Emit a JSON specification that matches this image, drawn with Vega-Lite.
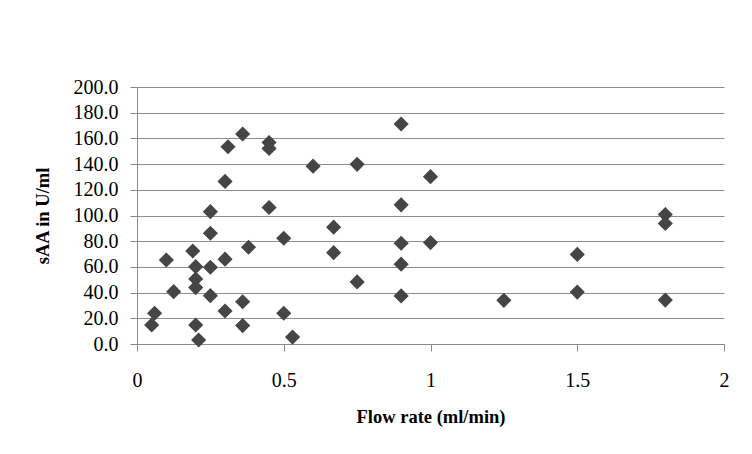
{
  "$schema": "https://vega.github.io/schema/vega-lite/v6.json",
  "autosize": {"type": "none"},
  "padding": {"left": 137, "top": 87, "right": 28, "bottom": 110},
  "width": 587,
  "height": 257,
  "background": "white",
  "config": {
    "view": {"stroke": null},
    "font": "Liberation Serif"
  },
  "data": {
    "values": [
      {"flow": 0.05, "saa": 14.8},
      {"flow": 0.06, "saa": 23.9},
      {"flow": 0.1, "saa": 65.4},
      {"flow": 0.125, "saa": 40.7},
      {"flow": 0.19, "saa": 72.4},
      {"flow": 0.2, "saa": 60.2},
      {"flow": 0.2, "saa": 50.6},
      {"flow": 0.2, "saa": 43.9},
      {"flow": 0.2, "saa": 14.8},
      {"flow": 0.21, "saa": 3.1},
      {"flow": 0.25, "saa": 103.0},
      {"flow": 0.25, "saa": 86.2},
      {"flow": 0.25, "saa": 59.7},
      {"flow": 0.25, "saa": 37.6},
      {"flow": 0.3, "saa": 126.5},
      {"flow": 0.3, "saa": 66.0},
      {"flow": 0.3, "saa": 25.7},
      {"flow": 0.31, "saa": 153.5},
      {"flow": 0.36, "saa": 163.4},
      {"flow": 0.36, "saa": 32.9},
      {"flow": 0.36, "saa": 14.3},
      {"flow": 0.38, "saa": 75.3},
      {"flow": 0.45, "saa": 156.8},
      {"flow": 0.45, "saa": 152.2},
      {"flow": 0.45, "saa": 106.2},
      {"flow": 0.5, "saa": 82.3},
      {"flow": 0.5, "saa": 23.9},
      {"flow": 0.53, "saa": 5.4},
      {"flow": 0.6, "saa": 138.4},
      {"flow": 0.67, "saa": 90.9},
      {"flow": 0.67, "saa": 71.1},
      {"flow": 0.75, "saa": 139.8},
      {"flow": 0.75, "saa": 48.3},
      {"flow": 0.9, "saa": 171.2},
      {"flow": 0.9, "saa": 108.3},
      {"flow": 0.9, "saa": 78.4},
      {"flow": 0.9, "saa": 62.1},
      {"flow": 0.9, "saa": 37.4},
      {"flow": 1.0, "saa": 130.2},
      {"flow": 1.0, "saa": 78.9},
      {"flow": 1.25, "saa": 34.0},
      {"flow": 1.5, "saa": 69.7},
      {"flow": 1.5, "saa": 40.4},
      {"flow": 1.8, "saa": 100.8},
      {"flow": 1.8, "saa": 93.8},
      {"flow": 1.8, "saa": 34.2}
    ]
  },
  "mark": {"type": "point", "shape": "diamond", "filled": true, "size": 230, "color": "#454545", "opacity": 1},
  "encoding": {
    "x": {
      "field": "flow",
      "type": "quantitative",
      "scale": {"domain": [0, 2], "nice": false, "zero": true},
      "axis": {
        "title": "Flow rate (ml/min)",
        "values": [0, 0.5, 1, 1.5, 2],
        "format": "~g",
        "grid": false,
        "labelFlush": false,
        "labelOverlap": false,
        "domainColor": "#8a8a8a",
        "tickColor": "#8a8a8a",
        "tickSize": 7,
        "labelPadding": 19,
        "labelFontSize": 20,
        "labelColor": "#000000",
        "labelFont": "Liberation Serif",
        "titleFont": "Liberation Serif",
        "titleFontSize": 18.5,
        "titleFontWeight": "bold",
        "titleColor": "#000000",
        "titlePadding": 17
      }
    },
    "y": {
      "field": "saa",
      "type": "quantitative",
      "scale": {"domain": [0, 200], "nice": false},
      "axis": {
        "title": "sAA in U/ml",
        "values": [0, 20, 40, 60, 80, 100, 120, 140, 160, 180, 200],
        "format": ".1f",
        "grid": true,
        "labelFlush": false,
        "labelOverlap": false,
        "gridColor": "#8e8e8e",
        "gridWidth": 1,
        "domainColor": "#8a8a8a",
        "tickColor": "#8a8a8a",
        "tickSize": 7,
        "labelPadding": 12,
        "labelFontSize": 20,
        "labelColor": "#000000",
        "labelFont": "Liberation Serif",
        "titleFont": "Liberation Serif",
        "titleFontSize": 18.5,
        "titleFontWeight": "bold",
        "titleColor": "#000000",
        "titlePadding": 21
      }
    }
  }
}
